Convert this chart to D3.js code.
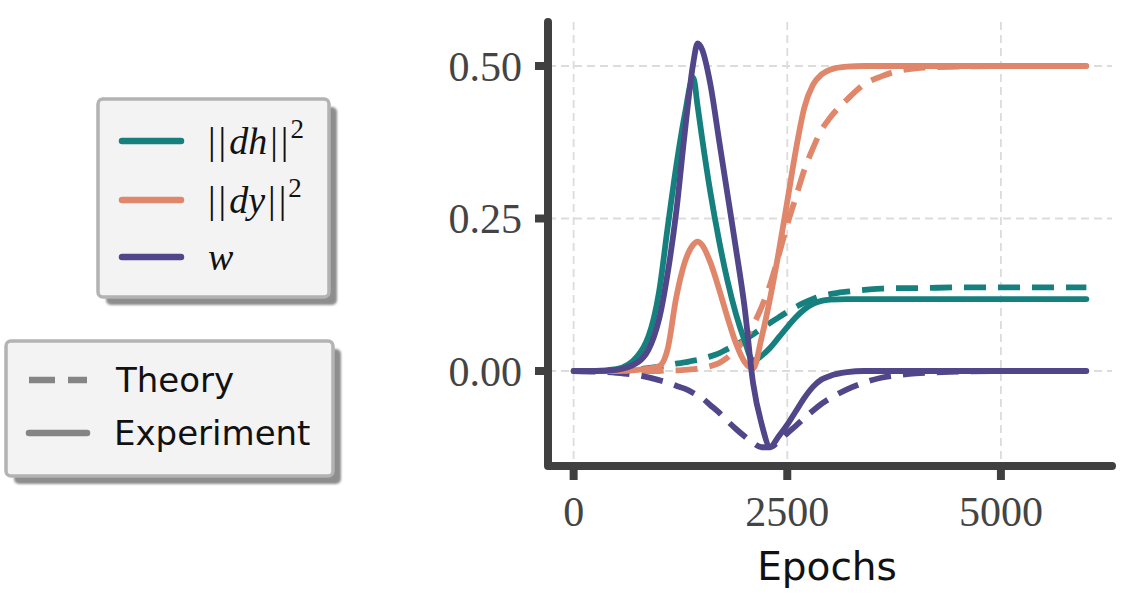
<!DOCTYPE html>
<html>
<head>
<meta charset="utf-8">
<script src="https://cdn.jsdelivr.net/npm/d3@7/dist/d3.min.js"></script>
<style>
  html, body { margin: 0; padding: 0; background: #ffffff; }
  svg { display: block; }
</style>
</head>
<body>
<svg id="chart" width="1134" height="605"></svg>
<script>
// ---------------- DATA ----------------
const epochs = [0, 250, 500, 750, 1000, 1100, 1200, 1300, 1400, 1450, 1500, 1600, 1700, 1800, 1900, 2000, 2100, 2200, 2300, 2400, 2500, 2600, 2700, 2800, 2900, 3000, 3200, 3400, 3600, 3800, 4000, 4500, 5000, 5500, 6000];

// Experiment (solid)
const dhExp = [0, 0, 0.003, 0.025, 0.13, 0.235, 0.335, 0.42, 0.481, 0.435, 0.385, 0.293, 0.215, 0.148, 0.093, 0.05, 0.017, 0.025, 0.038, 0.055, 0.072, 0.088, 0.101, 0.110, 0.115, 0.117, 0.118, 0.118, 0.118, 0.118, 0.118, 0.118, 0.118, 0.118, 0.118];
const dyExp = [0, 0, 0, 0.002, 0.008, 0.036, 0.12, 0.178, 0.207, 0.212, 0.207, 0.178, 0.135, 0.088, 0.045, 0.015, 0.004, 0.055, 0.12, 0.195, 0.278, 0.362, 0.432, 0.469, 0.486, 0.494, 0.499, 0.5, 0.5, 0.5, 0.5, 0.5, 0.5, 0.5, 0.5];
const wExp  = [0, 0, 0.002, 0.014, 0.085, 0.16, 0.26, 0.39, 0.505, 0.537, 0.528, 0.47, 0.38, 0.29, 0.2, 0.105, -0.02, -0.087, -0.124, -0.107, -0.088, -0.066, -0.044, -0.026, -0.014, -0.008, -0.002, 0, 0, 0, 0, 0, 0, 0, 0];

// Theory (dashed)
const dhTh = [0, 0, 0.001, 0.003, 0.007, 0.009, 0.012, 0.014, 0.017, 0.018, 0.02, 0.024, 0.029, 0.036, 0.043, 0.051, 0.06, 0.07, 0.079, 0.088, 0.097, 0.105, 0.112, 0.118, 0.123, 0.126, 0.13, 0.133, 0.135, 0.136, 0.136, 0.137, 0.137, 0.137, 0.137];
const dyTh = [0, 0, 0, 0, 0, 0.001, 0.001, 0.002, 0.003, 0.004, 0.005, 0.008, 0.013, 0.022, 0.035, 0.052, 0.075, 0.105, 0.142, 0.19, 0.24, 0.285, 0.33, 0.365, 0.395, 0.415, 0.445, 0.47, 0.483, 0.492, 0.496, 0.499, 0.5, 0.5, 0.5];
const wTh  = [0, -0.001, -0.003, -0.007, -0.015, -0.019, -0.024, -0.029, -0.036, -0.04, -0.044, -0.056, -0.068, -0.082, -0.095, -0.107, -0.118, -0.125, -0.125, -0.115, -0.102, -0.09, -0.077, -0.065, -0.054, -0.045, -0.03, -0.019, -0.011, -0.007, -0.004, -0.001, 0, 0, 0];

const xTicks = [0, 2500, 5000];
const xTickLabels = ["0", "2500", "5000"];
const yTicks = [0, 0.25, 0.5];
const yTickLabels = ["0.00", "0.25", "0.50"];
const xLabel = "Epochs";
const styleLabels = ["Theory", "Experiment"];

// ---------------- STYLE ----------------
const colors = { dh: "#16807f", dy: "#e0866a", w: "#504689" };
const spineColor = "#404040";

const svg = d3.select("#chart");

const pL = 548, pR = 1112, pT = 22, pB = 466;
const x = d3.scaleLinear().domain([-300, 6300]).range([pL, pR]);
const y = d3.scaleLinear().domain([-0.1557, 0.5721]).range([pB, pT]);

// grid
const grid = svg.append("g");
grid.selectAll("line.vg").data(xTicks).join("line")
  .attr("x1", d => x(d)).attr("x2", d => x(d))
  .attr("y1", pT).attr("y2", pB)
  .attr("stroke", "#dcdcdc").attr("stroke-width", 1.8).attr("stroke-dasharray", "8,5");
grid.selectAll("line.hg").data(yTicks).join("line")
  .attr("x1", pL).attr("x2", pR)
  .attr("y1", d => y(d)).attr("y2", d => y(d))
  .attr("stroke", "#dcdcdc").attr("stroke-width", 1.8).attr("stroke-dasharray", "8,5");

// lines
const mk = vals => d3.line()
  .x((d, i) => x(epochs[i]))
  .y(d => y(d))
  .curve(d3.curveMonotoneX)(vals);

const series = [
  { v: dhTh, c: colors.dh, dash: true },
  { v: dyTh, c: colors.dy, dash: true },
  { v: wTh,  c: colors.w,  dash: true },
  { v: dhExp, c: colors.dh, dash: false },
  { v: dyExp, c: colors.dy, dash: false },
  { v: wExp,  c: colors.w,  dash: false }
];
const lg = svg.append("g");
series.forEach(s => {
  lg.append("path")
    .attr("d", mk(s.v))
    .attr("fill", "none")
    .attr("stroke", s.c)
    .attr("stroke-width", 5.8)
    .attr("stroke-linecap", s.dash ? "butt" : "round")
    .attr("stroke-linejoin", "round")
    .attr("stroke-dasharray", s.dash ? "22,12" : null);
});

// spines
svg.append("path")
  .attr("d", `M${pL},${pT} L${pL},${pB} L${pR},${pB}`)
  .attr("fill", "none").attr("stroke", spineColor)
  .attr("stroke-width", 8).attr("stroke-linecap", "round").attr("stroke-linejoin", "round");

// ticks
svg.selectAll("line.yt").data(yTicks).join("line")
  .attr("x1", pL - 13).attr("x2", pL)
  .attr("y1", d => y(d)).attr("y2", d => y(d))
  .attr("stroke", spineColor).attr("stroke-width", 8);
svg.selectAll("line.xt").data(xTicks).join("line")
  .attr("x1", d => x(d)).attr("x2", d => x(d))
  .attr("y1", pB).attr("y2", pB + 14)
  .attr("stroke", spineColor).attr("stroke-width", 8);

// tick labels
svg.selectAll("text.yl").data(yTicks).join("text")
  .attr("x", 522).attr("y", d => y(d) + 15)
  .attr("text-anchor", "end")
  .attr("font-family", "Liberation Serif, serif").attr("font-size", 42)
  .attr("fill", "#444")
  .text((d, i) => yTickLabels[i]);
svg.selectAll("text.xl").data(xTicks).join("text")
  .attr("x", d => x(d)).attr("y", 526)
  .attr("text-anchor", "middle")
  .attr("font-family", "Liberation Serif, serif").attr("font-size", 42)
  .attr("fill", "#444")
  .text((d, i) => xTickLabels[i]);

svg.append("text")
  .attr("x", (pL + pR) / 2 - 3).attr("y", 580)
  .attr("text-anchor", "middle")
  .attr("font-family", "DejaVu Sans, sans-serif").attr("font-size", 39)
  .attr("fill", "#111")
  .text(xLabel);

// ---------------- LEGENDS ----------------
const defs = svg.append("defs");
defs.append("filter").attr("id", "blur").append("feGaussianBlur").attr("stdDeviation", 1.2);

function box(x0, y0, w, h) {
  svg.append("rect").attr("x", x0 + 8).attr("y", y0 + 8).attr("width", w).attr("height", h)
    .attr("rx", 5).attr("fill", "#8e8e8e").attr("filter", "url(#blur)");
  svg.append("rect").attr("x", x0).attr("y", y0).attr("width", w).attr("height", h)
    .attr("rx", 5).attr("fill", "#f3f3f3").attr("stroke", "#b3b3b3").attr("stroke-width", 3.5);
}

// legend 1: series
box(98, 99, 231, 198);
const leg1 = [
  { c: colors.dh, y: 141, name: ["d", "h"] },
  { c: colors.dy, y: 200, name: ["d", "y"] },
  { c: colors.w,  y: 257, name: null }
];
leg1.forEach(e => {
  svg.append("line").attr("x1", 122).attr("x2", 181).attr("y1", e.y).attr("y2", e.y)
    .attr("stroke", e.c).attr("stroke-width", 6.5).attr("stroke-linecap", "round");
  const t = svg.append("text").attr("x", 208).attr("y", e.y + 12.5)
    .attr("font-family", "Liberation Serif, serif").attr("font-size", 38).attr("fill", "#111");
  if (e.name) {
    t.append("tspan").text("||").attr("letter-spacing", 3);
    t.append("tspan").text(e.name.join("")).attr("font-style", "italic");
    t.append("tspan").text("||").attr("dx", 3).attr("letter-spacing", 3);
    t.append("tspan").text("2").attr("font-size", 27).attr("dy", -16).attr("dx", -1);
  } else {
    t.append("tspan").text("w").attr("font-style", "italic");
  }
});

// legend 2: line styles
box(6, 341, 327, 135);
svg.append("line").attr("x1", 29).attr("x2", 87).attr("y1", 380).attr("y2", 380)
  .attr("stroke", "#858585").attr("stroke-width", 6.5).attr("stroke-dasharray", "26,13");
svg.append("line").attr("x1", 29).attr("x2", 87).attr("y1", 433).attr("y2", 433)
  .attr("stroke", "#858585").attr("stroke-width", 6.5).attr("stroke-linecap", "round");
svg.append("text").attr("x", 116).attr("y", 392)
  .attr("font-family", "DejaVu Sans, sans-serif").attr("font-size", 34).attr("fill", "#111")
  .text(styleLabels[0]);
svg.append("text").attr("x", 114).attr("y", 445)
  .attr("font-family", "DejaVu Sans, sans-serif").attr("font-size", 34).attr("fill", "#111")
  .text(styleLabels[1]);
</script>
</body>
</html>
